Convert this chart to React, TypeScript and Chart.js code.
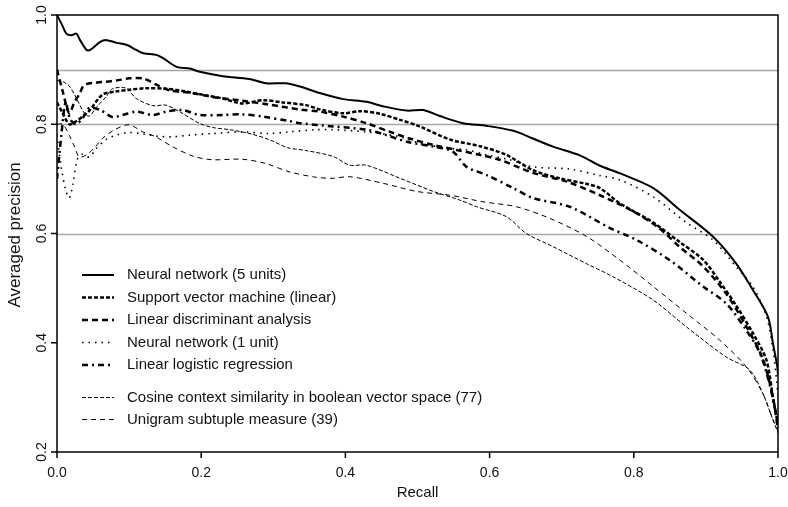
import { useEffect, useRef } from "react";
import { Chart, registerables } from "chart.js";

Chart.register(...registerables);

const FONT = '"Liberation Sans", Arial, Helvetica, sans-serif';

// Axis ticks and the reference precision levels
const recallTicks = [0, 0.2, 0.4, 0.6, 0.8, 1.0];
const precisionTicks = [0.2, 0.4, 0.6, 0.8, 1.0];
const referenceLevels = [0.9, 0.8, 0.6];

// Neural network (5 units)
const nn5Recall = [0, 0.007, 0.013, 0.02, 0.027, 0.032, 0.041, 0.046, 0.06, 0.069, 0.083, 0.097, 0.11, 0.12, 0.138, 0.147, 0.166, 0.184, 0.198, 0.23, 0.267, 0.29, 0.317, 0.337, 0.365, 0.397, 0.429, 0.452, 0.485, 0.508, 0.531, 0.563, 0.596, 0.633, 0.66, 0.688, 0.725, 0.753, 0.781, 0.827, 0.864, 0.91, 0.942, 0.965, 0.986, 0.993, 0.999, 1.0];
const nn5Precision = [1.0, 0.982, 0.966, 0.963, 0.966, 0.954, 0.936, 0.936, 0.951, 0.954, 0.949, 0.945, 0.936, 0.93, 0.927, 0.921, 0.905, 0.902, 0.896, 0.888, 0.883, 0.875, 0.875, 0.869, 0.857, 0.846, 0.841, 0.833, 0.825, 0.826, 0.815, 0.802, 0.797, 0.788, 0.774, 0.759, 0.743, 0.724, 0.71, 0.683, 0.643, 0.594, 0.545, 0.497, 0.448, 0.399, 0.356, 0.34];

// Support vector machine (linear)
const svmRecall = [0, 0.008, 0.017, 0.026, 0.038, 0.045, 0.063, 0.082, 0.1, 0.123, 0.151, 0.174, 0.202, 0.23, 0.257, 0.285, 0.313, 0.345, 0.365, 0.397, 0.42, 0.448, 0.476, 0.503, 0.545, 0.586, 0.623, 0.66, 0.697, 0.734, 0.753, 0.781, 0.827, 0.864, 0.896, 0.919, 0.942, 0.965, 0.984, 0.993, 1.0];
const svmPrecision = [0.84, 0.82, 0.8, 0.805, 0.817, 0.825, 0.854, 0.86, 0.863, 0.866, 0.865, 0.861, 0.854, 0.847, 0.838, 0.844, 0.84, 0.835, 0.827, 0.82, 0.824, 0.819, 0.808, 0.796, 0.772, 0.76, 0.744, 0.716, 0.701, 0.691, 0.683, 0.655, 0.62, 0.584, 0.552, 0.512, 0.468, 0.418, 0.368, 0.3, 0.25];

// Linear discriminant analysis
const ldaRecall = [0, 0.008, 0.017, 0.024, 0.031, 0.038, 0.054, 0.068, 0.082, 0.1, 0.119, 0.137, 0.156, 0.183, 0.216, 0.257, 0.294, 0.337, 0.365, 0.397, 0.429, 0.462, 0.489, 0.522, 0.554, 0.586, 0.614, 0.66, 0.707, 0.753, 0.8, 0.835, 0.864, 0.896, 0.928, 0.956, 0.979, 0.993, 1.0];
const ldaPrecision = [0.9, 0.86, 0.82, 0.84, 0.855, 0.872, 0.876, 0.878, 0.88, 0.884, 0.884, 0.873, 0.862, 0.858, 0.85, 0.843, 0.836, 0.827, 0.823, 0.814, 0.802, 0.786, 0.774, 0.762, 0.753, 0.744, 0.735, 0.711, 0.695, 0.67, 0.64, 0.61, 0.575, 0.54, 0.49, 0.43, 0.37, 0.3, 0.24];

// Neural network (1 unit)
const nn1Recall = [0, 0.006, 0.012, 0.017, 0.022, 0.028, 0.035, 0.045, 0.054, 0.068, 0.082, 0.1, 0.12, 0.14, 0.16, 0.183, 0.216, 0.257, 0.294, 0.322, 0.359, 0.383, 0.429, 0.476, 0.503, 0.545, 0.568, 0.596, 0.628, 0.66, 0.711, 0.753, 0.781, 0.827, 0.873, 0.91, 0.942, 0.965, 0.984, 0.993, 0.998, 1.0];
const nn1Precision = [0.78, 0.72, 0.68, 0.665, 0.69, 0.735, 0.745, 0.74, 0.755, 0.772, 0.78, 0.785, 0.782, 0.778, 0.777, 0.78, 0.783, 0.786, 0.783, 0.786, 0.79, 0.79, 0.786, 0.777, 0.765, 0.756, 0.753, 0.744, 0.735, 0.722, 0.718, 0.706, 0.698, 0.667, 0.62, 0.588, 0.539, 0.503, 0.448, 0.387, 0.332, 0.3];

// Linear logistic regression
const logitRecall = [0, 0.006, 0.012, 0.018, 0.026, 0.035, 0.045, 0.06, 0.077, 0.091, 0.11, 0.133, 0.151, 0.174, 0.197, 0.23, 0.257, 0.285, 0.322, 0.337, 0.383, 0.429, 0.457, 0.485, 0.522, 0.549, 0.568, 0.596, 0.633, 0.66, 0.711, 0.767, 0.804, 0.85, 0.896, 0.928, 0.956, 0.975, 0.988, 0.998, 1.0];
const logitPrecision = [0.7, 0.78, 0.84, 0.81, 0.8, 0.81, 0.83, 0.826, 0.813, 0.817, 0.823, 0.817, 0.823, 0.826, 0.817, 0.817, 0.818, 0.814, 0.806, 0.802, 0.796, 0.79, 0.78, 0.768, 0.759, 0.75, 0.722, 0.707, 0.683, 0.665, 0.649, 0.61, 0.588, 0.551, 0.503, 0.472, 0.423, 0.381, 0.326, 0.265, 0.25];

// Cosine context similarity in boolean vector space (77)
const cosineRecall = [0, 0.008, 0.017, 0.026, 0.038, 0.045, 0.054, 0.068, 0.077, 0.096, 0.11, 0.133, 0.151, 0.17, 0.197, 0.216, 0.24, 0.27, 0.296, 0.32, 0.345, 0.383, 0.406, 0.429, 0.476, 0.522, 0.559, 0.582, 0.623, 0.651, 0.688, 0.734, 0.771, 0.827, 0.873, 0.928, 0.961, 0.979, 0.993, 1.0];
const cosinePrecision = [0.88, 0.878, 0.87, 0.85, 0.82, 0.815, 0.83, 0.85, 0.865, 0.866, 0.847, 0.834, 0.835, 0.823, 0.802, 0.794, 0.79, 0.782, 0.771, 0.757, 0.752, 0.741, 0.725, 0.725, 0.701, 0.677, 0.661, 0.649, 0.631, 0.6, 0.576, 0.545, 0.521, 0.478, 0.429, 0.374, 0.35, 0.307, 0.259, 0.235];

// Unigram subtuple measure (39)
const unigramRecall = [0, 0.008, 0.017, 0.024, 0.031, 0.042, 0.054, 0.063, 0.08, 0.1, 0.119, 0.137, 0.16, 0.19, 0.216, 0.257, 0.29, 0.322, 0.359, 0.383, 0.406, 0.452, 0.499, 0.545, 0.591, 0.637, 0.683, 0.734, 0.781, 0.827, 0.873, 0.919, 0.956, 0.979, 0.993, 1.0];
const unigramPrecision = [0.8, 0.8, 0.78, 0.76, 0.74, 0.745, 0.76, 0.774, 0.79, 0.799, 0.786, 0.777, 0.759, 0.741, 0.735, 0.736, 0.728, 0.713, 0.703, 0.701, 0.704, 0.692, 0.677, 0.67, 0.658, 0.649, 0.628, 0.595, 0.551, 0.503, 0.454, 0.405, 0.356, 0.307, 0.259, 0.24];

type Series = {
  label: string;
  recall: number[];
  precision: number[];
  width: number;
  dash: number[];
};

const series: Series[] = [
  { label: "Neural network (5 units)", recall: nn5Recall, precision: nn5Precision, width: 2, dash: [] },
  { label: "Support vector machine (linear)", recall: svmRecall, precision: svmPrecision, width: 2.5, dash: [4, 2] },
  { label: "Linear discriminant analysis", recall: ldaRecall, precision: ldaPrecision, width: 2.5, dash: [6, 4] },
  { label: "Neural network (1 unit)", recall: nn1Recall, precision: nn1Precision, width: 1.6, dash: [1.5, 5] },
  { label: "Linear logistic regression", recall: logitRecall, precision: logitPrecision, width: 2.5, dash: [6, 4, 2, 4] },
  { label: "Cosine context similarity in boolean vector space (77)", recall: cosineRecall, precision: cosinePrecision, width: 1, dash: [4, 2] },
  { label: "Unigram subtuple measure (39)", recall: unigramRecall, precision: unigramPrecision, width: 1, dash: [5, 4] },
];

// Frame, ticks, axis titles, reference levels and the key
const framePlugin = {
  id: "frame",
  beforeDatasetsDraw(chart: any) {
    const { ctx, chartArea: a, scales } = chart;
    ctx.save();
    ctx.strokeStyle = "#a8a8a8";
    ctx.lineWidth = 1.5;
    referenceLevels.forEach((v) => {
      const y = Math.round(scales.y.getPixelForValue(v)) + 0.5;
      ctx.beginPath();
      ctx.moveTo(a.left, y);
      ctx.lineTo(a.right, y);
      ctx.stroke();
    });
    ctx.restore();
  },
  afterDatasetsDraw(chart: any) {
    const { ctx, chartArea: a, scales } = chart;
    ctx.save();
    ctx.strokeStyle = "#000";
    ctx.fillStyle = "#111";
    ctx.lineWidth = 1.5;
    ctx.setLineDash([]);
    ctx.strokeRect(a.left, a.top, a.right - a.left, a.bottom - a.top);

    ctx.font = `14px ${FONT}`;
    // x ticks
    ctx.textAlign = "center";
    ctx.textBaseline = "middle";
    recallTicks.forEach((v) => {
      const x = scales.x.getPixelForValue(v);
      ctx.beginPath();
      ctx.moveTo(x, a.bottom);
      ctx.lineTo(x, a.bottom + 6);
      ctx.stroke();
      ctx.fillText(v.toFixed(1), x, a.bottom + 21);
    });
    // y ticks, labels rotated
    precisionTicks.forEach((v) => {
      const y = scales.y.getPixelForValue(v);
      ctx.beginPath();
      ctx.moveTo(a.left, y);
      ctx.lineTo(a.left - 6, y);
      ctx.stroke();
      ctx.save();
      ctx.translate(a.left - 15, y);
      ctx.rotate(-Math.PI / 2);
      ctx.fillText(v.toFixed(1), 0, 0);
      ctx.restore();
    });

    // axis titles
    ctx.font = `15px ${FONT}`;
    ctx.fillText("Recall", (a.left + a.right) / 2, a.bottom + 41);
    ctx.save();
    ctx.font = `17px ${FONT}`;
    ctx.translate(15, 235);
    ctx.rotate(-Math.PI / 2);
    ctx.fillText("Averaged precision", 0, 0);
    ctx.restore();

    // key
    const rows = [275, 297.5, 320, 342.5, 365, 397.5, 419.5];
    ctx.textAlign = "left";
    ctx.font = `15px ${FONT}`;
    series.forEach((s, i) => {
      const y = rows[i];
      ctx.lineWidth = s.width;
      ctx.setLineDash(s.dash);
      ctx.beginPath();
      ctx.moveTo(82, y);
      ctx.lineTo(114, y);
      ctx.stroke();
      ctx.setLineDash([]);
      ctx.fillText(s.label, 127, y);
    });
    ctx.restore();
  },
};

export default function App() {
  const ref = useRef<HTMLCanvasElement | null>(null);

  useEffect(() => {
    if (!ref.current) return;
    const datasets = series.map((s) => ({
      label: s.label,
      data: s.recall
        .slice(0, Math.min(s.recall.length, s.precision.length))
        .map((r, i) => ({ x: r, y: s.precision[i] })),
      borderColor: "#000",
      borderWidth: s.width,
      borderDash: s.dash,
      pointRadius: 0,
      fill: false,
      tension: 0.3,
    }));
    const chart = new Chart(ref.current, {
      type: "line",
      data: { datasets },
      options: {
        responsive: false,
        animation: false,
        layout: { padding: { left: 57, right: 10, top: 15, bottom: 55 } },
        scales: {
          x: { type: "linear", min: 0, max: 1, display: false },
          y: { type: "linear", min: 0.2, max: 1, display: false },
        },
        plugins: { legend: { display: false }, tooltip: { enabled: false } },
      },
      plugins: [framePlugin],
    });
    return () => chart.destroy();
  }, []);

  return (
    <div style={{ position: "absolute", left: 0, top: 0, width: 788, height: 507, background: "#fff" }}>
      <canvas ref={ref} width={788} height={507} style={{ display: "block" }} />
    </div>
  );
}
